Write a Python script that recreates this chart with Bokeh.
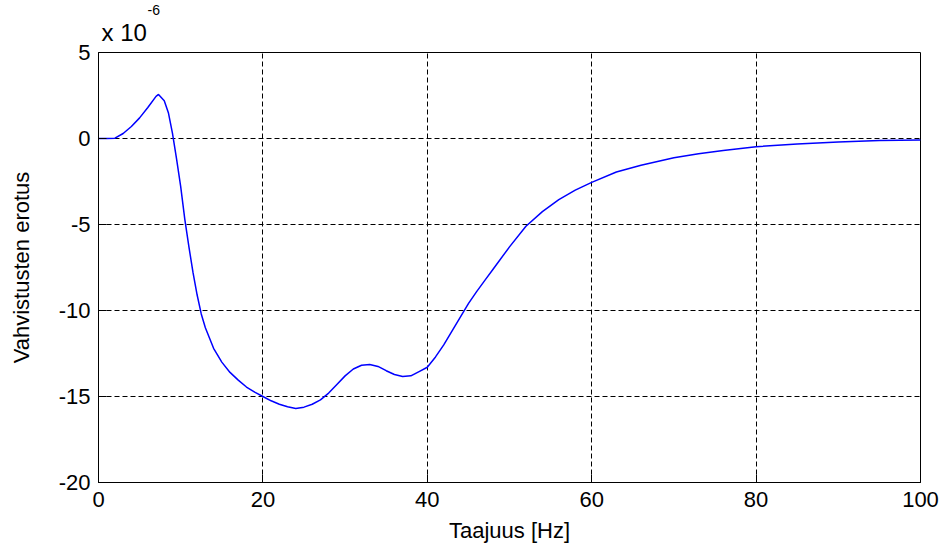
from bokeh.plotting import figure
from bokeh.models import Range1d, FixedTicker, Title
from bokeh.embed import file_html
from bokeh.resources import INLINE

# Frequency [Hz] and gain difference (units of 1e-6)
freq = [0, 1, 2, 3, 4, 5, 6, 7, 7.3, 8, 8.5, 9, 9.5, 10, 10.5, 11, 11.5, 12, 12.5,
        13, 13.5, 14, 15, 16, 17, 18, 19, 20, 21, 22, 23, 24, 25, 26, 27, 28, 29,
        30, 31, 32, 33, 34, 35, 36, 37, 38, 39, 40, 41, 42, 43, 44, 45, 46, 47,
        48, 50, 52, 54, 56, 58, 60, 63, 66, 70, 73, 76, 80, 85, 90, 95, 100]
diff = [0.0, 0.0, 0.02, 0.29, 0.7, 1.2, 1.8, 2.45, 2.56, 2.2, 1.5, 0.3, -1.2,
        -2.8, -4.7, -6.3, -7.8, -9.1, -10.2, -11.0, -11.6, -12.2, -13.0, -13.6,
        -14.05, -14.45, -14.75, -15.0, -15.25, -15.45, -15.6, -15.7, -15.62,
        -15.45, -15.2, -14.8, -14.3, -13.8, -13.4, -13.18, -13.14, -13.25, -13.5,
        -13.72, -13.84, -13.8, -13.55, -13.3, -12.7, -12.0, -11.2, -10.4, -9.6,
        -8.9, -8.25, -7.6, -6.3, -5.1, -4.25, -3.55, -3.0, -2.55, -1.95, -1.55,
        -1.12, -0.88, -0.7, -0.48, -0.32, -0.2, -0.12, -0.08]

x_ticks = [0, 20, 40, 60, 80, 100]
y_ticks = [-20, -15, -10, -5, 0, 5]
x_label = "Taajuus [Hz]"
y_label = "Vahvistusten erotus"
exp_base = "x 10"
exp_power = "-6"

FONT = "Liberation Sans"

p = figure(width=944, height=555, output_backend="svg", toolbar_location=None,
           x_range=Range1d(0, 100), y_range=Range1d(-20, 5),
           min_border_left=98, min_border_right=24, min_border_top=52,
           min_border_bottom=73)
p.title = None
p.background_fill_color = "white"
p.border_fill_color = "white"
p.outline_line_color = "black"
p.outline_line_width = 1

p.line(freq, diff, line_color="#0000ff", line_width=1.5)

for ax, ticks in ((p.xaxis[0], x_ticks), (p.yaxis[0], y_ticks)):
    ax.ticker = FixedTicker(ticks=ticks)
    ax.major_label_overrides = {t: str(t) for t in ticks}
    ax.major_tick_in = 8
    ax.major_tick_out = 0
    ax.minor_tick_in = 0
    ax.minor_tick_out = 0
    ax.axis_line_color = "black"
    ax.major_tick_line_color = "black"
    ax.major_label_text_font = FONT
    ax.major_label_text_font_size = "22px"
    ax.major_label_text_color = "black"
    ax.axis_label_text_font = FONT
    ax.axis_label_text_font_size = "22px"
    ax.axis_label_text_font_style = "normal"
    ax.axis_label_text_color = "black"

p.xaxis.axis_label = x_label
p.yaxis.axis_label = y_label
p.xaxis.major_label_standoff = 9
p.xaxis.axis_label_standoff = 8
p.yaxis.major_label_standoff = 8
p.yaxis.axis_label_standoff = 22

for g, ticks in ((p.xgrid[0], x_ticks), (p.ygrid[0], y_ticks)):
    g.ticker = FixedTicker(ticks=ticks)
    g.grid_line_color = "black"
    g.grid_line_dash = "5 3"
    g.grid_line_width = 1

t_base = Title(text=exp_base, align="left", offset=3, standoff=13,
               text_font=FONT, text_font_size="24px", text_font_style="normal",
               text_color="black")
t_pow = Title(text=exp_power, align="left", offset=49, standoff=-8,
              text_font=FONT, text_font_size="14px", text_font_style="normal",
              text_color="black")
p.add_layout(t_base, "above")
p.add_layout(t_pow, "above")

open("out.html", "w").write(file_html(p, INLINE))
